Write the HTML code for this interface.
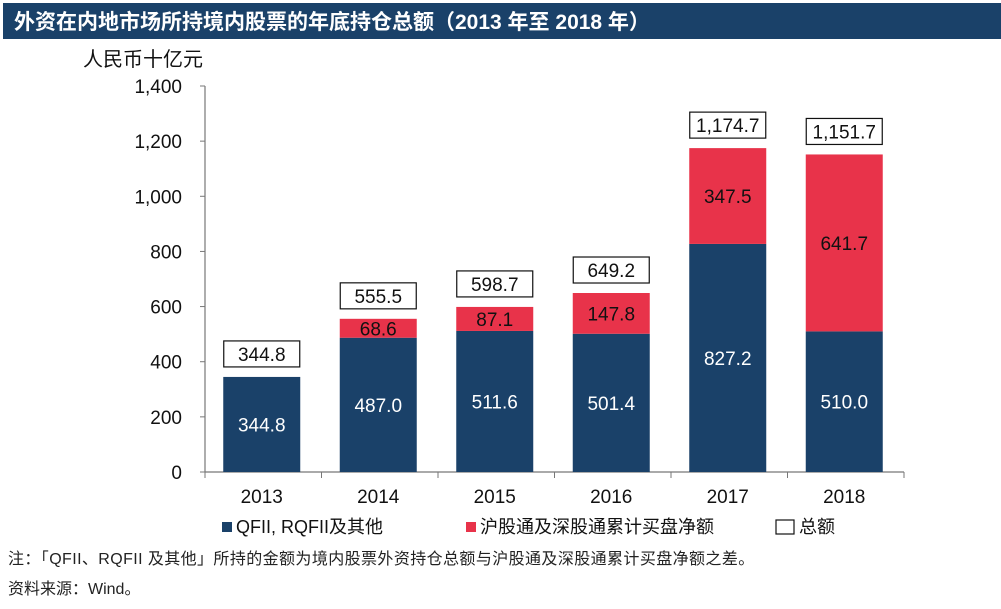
<!DOCTYPE html>
<html><head><meta charset="utf-8"><style>
body{margin:0;background:#fff;}
svg{display:block;font-family:"Liberation Sans","Noto Sans CJK SC",sans-serif;}
</style></head><body>
<svg id="c" width="1001" height="609" xmlns="http://www.w3.org/2000/svg">
<rect x="3" y="3" width="998" height="36" fill="#1a4169"/>
<text x="14" y="29" fill="#fff" font-size="21" font-weight="bold">外资在内地市场所持境内股票的年底持仓总额（2013 年至 2018 年）</text>
<text x="83" y="66" font-size="20" fill="#111">人民币十亿元</text>
<g id="axes"></g><g id="bars"></g>
<g>
<rect x="222" y="522" width="10" height="10" fill="#1a4169"/>
<text x="236" y="533" font-size="18" fill="#111">QFII, RQFII及其他</text>
<rect x="466" y="522" width="10" height="10" fill="#e8334a"/>
<text x="480" y="533" font-size="18" fill="#111">沪股通及深股通累计买盘净额</text>
<rect x="776" y="520" width="18" height="14" fill="#fff" stroke="#111" stroke-width="1.2"/>
<text x="799" y="533" font-size="18" fill="#111">总额</text>
</g>
<text x="8" y="564" font-size="16" letter-spacing="0.4" fill="#222">注：「QFII、RQFII 及其他」所持的金额为境内股票外资持仓总额与沪股通及深股通累计买盘净额之差。</text>
<text x="8" y="594" font-size="16" fill="#222">资料来源：Wind。</text>
</svg>
<script>
const categories=["2013","2014","2015","2016","2017","2018"];
const qfiiValues=[344.8,487.0,511.6,501.4,827.2,510.0];
const connectValues=[0,68.6,87.1,147.8,347.5,641.7];
const totalValues=[344.8,555.5,598.7,649.2,1174.7,1151.7];
const yTicks=[0,200,400,600,800,1000,1200,1400];
const NS="http://www.w3.org/2000/svg";
const x0=205,catW=116.5,y0=472,yTop=86,yMax=1400,barW=77;
const ys=v=>y0-(v/yMax)*(y0-yTop);
const xc=i=>x0+catW*(i+0.5)-1.5;
function mk(tag,attrs,parent,txt){const e=document.createElementNS(NS,tag);for(const k in attrs)e.setAttribute(k,attrs[k]);if(txt!=null)e.textContent=txt;parent.appendChild(e);return e;}
const ax=document.getElementById('axes'),bg=document.getElementById('bars');
let l=mk('line',{x1:x0,y1:yTop,x2:x0,y2:y0,stroke:'#777','stroke-width':1.2},ax);


l=mk('line',{x1:x0,y1:y0,x2:x0+catW*categories.length,y2:y0,stroke:'#777','stroke-width':1.2},ax);


yTicks.forEach(t=>{
 const y=ys(t);
 let tk=mk('line',{x1:x0-5,y1:y,x2:x0,y2:y,stroke:'#777'},ax);
 
 
 let tx=mk('text',{x:x0-23,y:y+7,'text-anchor':'end','font-size':19,fill:'#111'},ax,t.toLocaleString('en-US'));
 
 
});
for(let i=0;i<=categories.length;i++){
 let tk=mk('line',{x1:x0+catW*i,y1:y0,x2:x0+catW*i,y2:y0+6,stroke:'#777'},ax);
 
 
}
categories.forEach((c,i)=>{
 const cx=xc(i),bx=cx-barW/2;
 let tx=mk('text',{x:cx,y:503,'text-anchor':'middle','font-size':19,fill:'#111'},ax,c);
 
 
 const q=qfiiValues[i],s=connectValues[i],t=totalValues[i];
 let r=mk('rect',{x:bx,y:ys(q),width:barW,height:y0-ys(q),fill:'#1a4169'},bg);
 
 
 let lb=mk('text',{x:cx,y:(ys(q)+y0)/2+7,'text-anchor':'middle','font-size':19,fill:'#fff'},bg,q.toFixed(1));
 
 
 if(s>0){
  let r2=mk('rect',{x:bx,y:ys(q+s),width:barW,height:ys(q)-ys(q+s),fill:'#e8334a'},bg);
  
  
  let lb2=mk('text',{x:cx,y:(ys(q)+ys(q+s))/2+7,'text-anchor':'middle','font-size':19,fill:'#111'},bg,s.toFixed(1));
  
  
 }
 const by=ys(t)-36;
 let bx2=mk('rect',{x:cx-38,y:by,width:76,height:26,fill:'#fff',stroke:'#111','stroke-width':1.2},bg);
 
 
 let lt=mk('text',{x:cx,y:by+20,'text-anchor':'middle','font-size':19,fill:'#111'},bg,t.toLocaleString('en-US',{minimumFractionDigits:1}));
 
 
});
</script>
</body></html>
